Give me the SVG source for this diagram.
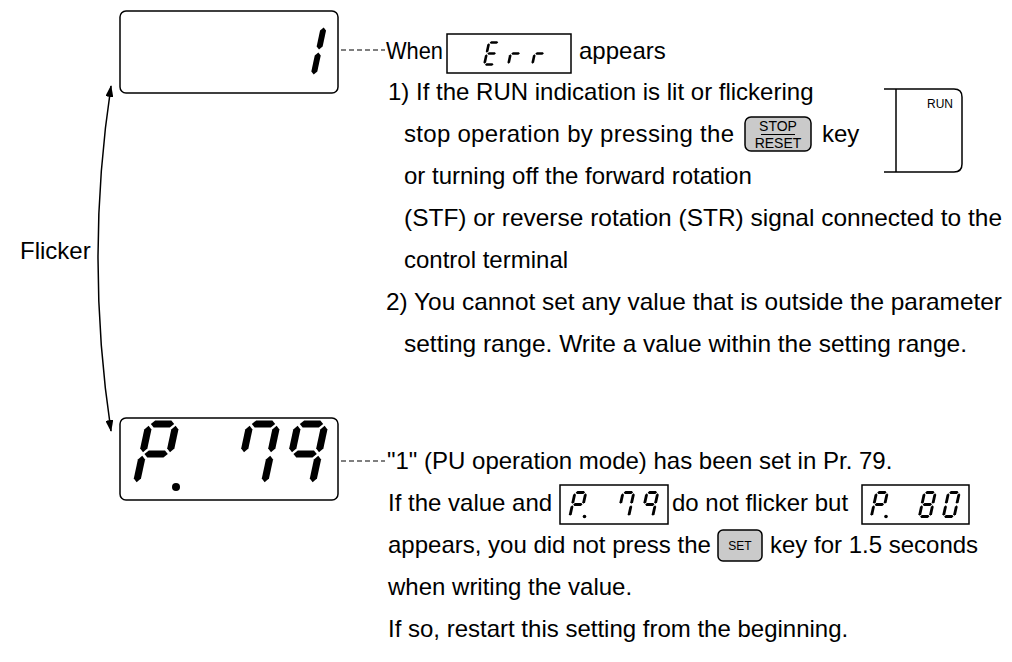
<svg xmlns="http://www.w3.org/2000/svg" width="1012" height="662" viewBox="0 0 1012 662">
<style>
.t{font-family:"Liberation Sans",Arial,sans-serif;font-size:24px;fill:#000}
.lcd{fill:#fff;stroke:#000;stroke-width:1.5}
.sbox{fill:#fff;stroke:#000;stroke-width:1.5}
.seg{fill:#000}
.dash{fill:none;stroke:#000;stroke-width:1.2;stroke-dasharray:5 3}
.key{fill:#cacaca;stroke:#000;stroke-width:1.5}
.kt{font-family:"Liberation Sans",Arial,sans-serif;fill:#000;text-anchor:middle}
.ln{fill:none;stroke:#000;stroke-width:1.5}
</style>
<defs>
<polygon id="sh" points="0.6,0 1.8,-1.2 7.2,-1.2 8.4,0 7.2,1.2 1.8,1.2"/>
<polygon id="sv" points="0,0.6 1.2,1.8 1.2,8.2 0,9.4 -1.2,8.2 -1.2,1.8"/>
<g id="dP" class="seg"><use href="#sh" y="0"/><use href="#sv" x="9"/><use href="#sv" y="0"/><use href="#sv" y="10"/><use href="#sh" y="10"/></g>
<g id="d7" class="seg"><use href="#sh" y="0"/><use href="#sv" x="9"/><use href="#sv" x="9" y="10"/><use href="#sv" y="0"/></g>
<g id="d9" class="seg"><use href="#sh" y="0"/><use href="#sv" x="9"/><use href="#sv" x="9" y="10"/><use href="#sv" y="0"/><use href="#sh" y="10"/></g>
<g id="d8" class="seg"><use href="#sh" y="0"/><use href="#sv" x="9"/><use href="#sv" x="9" y="10"/><use href="#sh" y="20"/><use href="#sv" y="10"/><use href="#sv" y="0"/><use href="#sh" y="10"/></g>
<g id="d0" class="seg"><use href="#sh" y="0"/><use href="#sv" x="9"/><use href="#sv" x="9" y="10"/><use href="#sh" y="20"/><use href="#sv" y="10"/><use href="#sv" y="0"/></g>
<g id="dE" class="seg"><use href="#sh" y="0"/><use href="#sh" y="20"/><use href="#sv" y="10"/><use href="#sv" y="0"/><use href="#sh" y="10"/></g>
<g id="dr" class="seg"><use href="#sv" y="10"/><use href="#sh" y="10"/></g>
<g id="d1" class="seg"><use href="#sv" x="9"/><use href="#sv" x="9" y="10"/></g>
<marker id="ah" viewBox="0 0 12 8" refX="11" refY="4" markerWidth="12" markerHeight="8" markerUnits="userSpaceOnUse" orient="auto-start-reverse"><path d="M0,0 L12,4 L0,8 Z" fill="#000"/></marker>
</defs>

<g id="display-top">
<rect class="lcd" x="120" y="11" width="218" height="82" rx="6"/>
<use href="#d1" transform="translate(301.5,26) scale(2.5) skewX(-12)"/>
</g>

<g id="display-bottom">
<rect class="lcd" x="120" y="418" width="218" height="82" rx="6"/>
<use href="#dP" transform="translate(149,424) scale(3) skewX(-12)"/>
<circle class="seg" cx="176" cy="487" r="4"/>
<use href="#d7" transform="translate(250,424) scale(3) skewX(-12)"/>
<use href="#d9" transform="translate(298,424) scale(3) skewX(-12)"/>
</g>

<g id="connectors">
<path class="dash" d="M341,50 H385"/>
<path class="dash" d="M341,461 H385"/>
<path class="ln" d="M111,86 Q85,258 111,431" marker-start="url(#ah)" marker-end="url(#ah)"/>
</g>

<g id="flicker-label"><text class="t" x="20" y="259">Flicker</text></g>

<g id="note-err">
<text class="t" x="386" y="59" textLength="57" lengthAdjust="spacingAndGlyphs">When</text>
<g id="lcd-err">
<rect class="sbox" x="447" y="34" width="124" height="39"/>
<use href="#dE" transform="translate(489,42.5) scale(1.1) skewX(-12)"/>
<use href="#dr" transform="translate(513,42.5) scale(1.1) skewX(-12)"/>
<use href="#dr" transform="translate(537,42.5) scale(1.1) skewX(-12)"/>
</g>
<text class="t" x="579" y="59">appears</text>
<text class="t" x="388" y="100">1) If the RUN indication is lit or flickering</text>
<text class="t" x="404" y="142" textLength="330" lengthAdjust="spacing">stop operation by pressing the</text>
<g id="key-stop">
<rect class="key" x="745" y="117" width="66" height="34" rx="6"/>
<text class="kt" x="778" y="131" font-size="14">STOP</text>
<line x1="761" y1="134.5" x2="795" y2="134.5" stroke="#000" stroke-width="1"/>
<text class="kt" x="778" y="148" font-size="14">RESET</text>
</g>
<text class="t" x="822" y="142">key</text>
<text class="t" x="404" y="184">or turning off the forward rotation</text>
<text class="t" x="404" y="226" textLength="598" lengthAdjust="spacingAndGlyphs">(STF) or reverse rotation (STR) signal connected to the</text>
<text class="t" x="404" y="268">control terminal</text>
<text class="t" x="386" y="310" textLength="616" lengthAdjust="spacingAndGlyphs">2) You cannot set any value that is outside the parameter</text>
<text class="t" x="404" y="352" textLength="563" lengthAdjust="spacingAndGlyphs">setting range. Write a value within the setting range.</text>
</g>

<g id="run-panel">
<path class="ln" d="M884,89 H954 Q962,89 962,97 V164 Q962,172 954,172 H884"/>
<line class="ln" x1="896" y1="89" x2="896" y2="172"/>
<text class="kt" x="940" y="108" font-size="12">RUN</text>
</g>

<g id="note-pr79">
<text class="t" x="387" y="469">"1" (PU operation mode) has been set in Pr. 79.</text>
<text class="t" x="388" y="511">If the value and</text>
<g id="lcd-p79">
<rect class="sbox" x="560" y="485" width="108" height="39"/>
<use href="#dP" transform="translate(575,492.5) scale(1.2) skewX(-12)"/>
<circle class="seg" cx="584.5" cy="516.5" r="1.8"/>
<use href="#d7" transform="translate(623,492.5) scale(1.2) skewX(-12)"/>
<use href="#d9" transform="translate(647,492.5) scale(1.2) skewX(-12)"/>
</g>
<text class="t" x="672" y="511">do not flicker but</text>
<g id="lcd-p80">
<rect class="sbox" x="862" y="485" width="107" height="39"/>
<use href="#dP" transform="translate(876.5,492.5) scale(1.2) skewX(-12)"/>
<circle class="seg" cx="886" cy="516.5" r="1.8"/>
<use href="#d8" transform="translate(924.5,492.5) scale(1.2) skewX(-12)"/>
<use href="#d0" transform="translate(948.5,492.5) scale(1.2) skewX(-12)"/>
</g>
<text class="t" x="388" y="553">appears, you did not press the</text>
<g id="key-set">
<rect class="key" x="718" y="530" width="44" height="31" rx="5"/>
<text class="kt" x="740" y="550" font-size="12">SET</text>
</g>
<text class="t" x="770" y="553">key for 1.5 seconds</text>
<text class="t" x="388" y="595">when writing the value.</text>
<text class="t" x="388" y="637">If so, restart this setting from the beginning.</text>
</g>
</svg>
